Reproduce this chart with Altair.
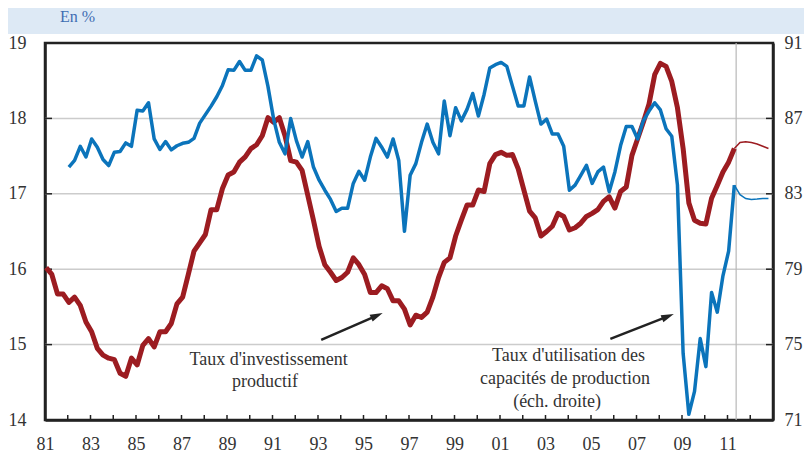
import altair as alt
import pandas as pd

# Taux d'investissement productif (left axis, %), quarterly 1981Q1 .. 2011Q2
invest = [
    16.02, 15.93, 15.67, 15.67,
    15.56, 15.63, 15.52, 15.30,
    15.17, 14.95, 14.86, 14.82,
    14.80, 14.62, 14.58, 14.82,
    14.73, 14.99, 15.08, 14.97,
    15.17, 15.17, 15.28, 15.54,
    15.63, 15.93, 16.24, 16.35,
    16.46, 16.79, 16.79, 17.07,
    17.25, 17.29, 17.42, 17.49,
    17.60, 17.65, 17.77, 18.01,
    17.95, 18.01, 17.77, 17.44,
    17.42, 17.31, 16.98, 16.65,
    16.30, 16.06, 15.96, 15.85,
    15.89, 15.96, 16.15, 16.06,
    15.93, 15.69, 15.69, 15.78,
    15.74, 15.58, 15.58, 15.47,
    15.26, 15.39, 15.36, 15.43,
    15.63, 15.89, 16.09, 16.15,
    16.44, 16.65, 16.85, 16.85,
    17.05, 17.03, 17.40, 17.52,
    17.55, 17.51, 17.52, 17.33,
    17.05, 16.77, 16.68, 16.44,
    16.50, 16.57, 16.74, 16.70,
    16.52, 16.55, 16.61, 16.70,
    16.74, 16.79, 16.90, 16.96,
    16.81, 17.03, 17.09, 17.51,
    17.73, 17.95, 18.19, 18.58,
    18.73, 18.69, 18.49, 18.14,
    17.60, 16.88, 16.65, 16.61,
    16.60, 16.94, 17.11, 17.29,
    17.42, 17.60,
]

# Taux d'utilisation des capacités de production (right axis, %), quarterly 1982Q1 .. 2011Q2
capacity = [
    84.42, 84.77, 85.52, 84.95,
    85.91, 85.47, 84.82, 84.50,
    85.21, 85.24, 85.70, 85.52,
    87.43, 87.39, 87.83, 85.91,
    85.35, 85.77, 85.33, 85.55,
    85.68, 85.73, 85.94, 86.75,
    87.20, 87.65, 88.15, 88.75,
    89.58, 89.55, 90.02, 89.55,
    89.55, 90.32, 90.10, 88.70,
    86.96, 85.73, 85.12, 86.99,
    85.82, 84.95, 85.77, 84.42,
    83.72, 83.19, 82.70, 82.06,
    82.23, 82.23, 83.55, 84.19,
    83.72, 84.95, 85.94, 85.47,
    84.95, 85.91, 84.77, 81.01,
    83.98, 84.60, 85.73, 86.70,
    85.73, 85.12, 87.92, 86.08,
    87.57, 86.87, 87.48, 88.32,
    87.13, 88.27, 89.67, 89.85,
    89.97, 89.76, 88.70, 87.66,
    87.66, 89.20, 87.92, 86.70,
    86.96, 86.17, 86.17, 85.52,
    83.19, 83.46, 83.98, 84.51,
    83.55, 84.16, 84.42, 83.11,
    84.16, 85.56, 86.57, 86.57,
    85.91, 86.87, 87.39, 87.83,
    87.45, 86.45, 86.05, 83.46,
    74.53, 71.30, 72.52, 75.32,
    73.83, 77.77, 76.72, 78.65,
    79.96, 83.46,
]

# Forecasts (thin lines), quarterly 2011Q2 .. 2012Q4
invest_fc = [17.60, 17.68, 17.69, 17.68, 17.66, 17.63, 17.60]
capacity_fc = [83.46, 82.95, 82.75, 82.70, 82.72, 82.75, 82.75]

x_label_years = list(range(1981, 2012, 2))
x_tick_years = list(range(1982, 2013))
left_ticks = [14, 15, 16, 17, 18, 19]
right_ticks = [71, 75, 79, 83, 87, 91]
grid_values = [15, 16, 17, 18]
forecast_line_x = [2011.38]

# annotations (data coordinates: year, left-axis value)
label_text = ["Taux d'investissement", "productif",
              "Taux d'utilisation des", "capacités de production", "(éch. droite)"]
label_x = [1990.83, 1990.67, 2004.01, 2003.86, 2003.51]
label_y = [14.735, 14.433, 14.787, 14.472, 14.171]
arrow_x = [1993.14, 2005.85]
arrow_y = [15.063, 15.076]
arrow_x2 = [1995.59, 2008.38]
arrow_y2 = [15.385, 15.374]
arrow_angle = [66.4, 68.6]

RED = "#9c1c21"
BLUE = "#0b74bb"
DARK = "#222222"
TEXT = "#333333"
FONT = "Liberation Serif"
BAND = "#dde9f5"


def quarters(start_year, n):
    return [start_year + 0.05 + 0.25 * i for i in range(n)]


df_inv = pd.DataFrame({"x": quarters(1981, len(invest)), "v": invest})
df_cap = pd.DataFrame({"x": quarters(1982, len(capacity)), "v": capacity})
df_inv_fc = pd.DataFrame({"x": quarters(2011.25, len(invest_fc)), "v": invest_fc})
df_cap_fc = pd.DataFrame({"x": quarters(2011.25, len(capacity_fc)), "v": capacity_fc})
df_labels = pd.DataFrame({"x": label_x, "v": label_y, "t": label_text})
df_arrows = pd.DataFrame({"x": arrow_x, "v": arrow_y, "x2": arrow_x2, "v2": arrow_y2, "a": arrow_angle})
df_heads = pd.DataFrame({"x": arrow_x2, "v": arrow_y2, "a": arrow_angle})
df_grid = pd.DataFrame({"v": grid_values})
df_xticks = pd.DataFrame({"x": x_tick_years})
df_vline = pd.DataFrame({"x": forecast_line_x})
df_one = pd.DataFrame({"a": [0]})

W, H = 728, 377
PAD = {"left": 37, "top": 35, "right": 31, "bottom": 34}

x_axis = alt.Axis(values=x_label_years, labelExpr="slice('' + datum.value, 2)",
                  ticks=False, grid=False, domainColor=DARK, domainWidth=2.5,
                  labelPadding=15, labelFlush=False, labelOverlap=False, title=None)
X = alt.X("x:Q", scale=alt.Scale(domain=[1981, 2013], nice=False, zero=False), axis=x_axis)

left_axis = alt.Axis(values=left_ticks, ticks=False, grid=False, domainColor=DARK,
                     domainWidth=2.5, labelPadding=19, title=None)
YL = alt.Y("v:Q", scale=alt.Scale(domain=[14, 19], nice=False, zero=False), axis=left_axis)

right_axis = alt.Axis(values=right_ticks, orient="right", ticks=False, grid=False,
                      domainColor=DARK, domainWidth=2.5, labelPadding=11, title=None)
YR = alt.Y("v:Q", scale=alt.Scale(domain=[71, 91], nice=False, zero=False), axis=right_axis)

band = alt.Chart(df_one).mark_rect(color=BAND).encode(
    x=alt.value(-PAD["left"]), x2=alt.value(W + PAD["right"]), y=alt.value(-PAD["top"]), y2=alt.value(-9))
en_pct = alt.Chart(df_one).mark_text(text="En %", font=FONT, fontSize=16, color="#3d6db2",
                                     align="left", baseline="alphabetic").encode(
    x=alt.value(15), y=alt.value(-21))

grid = alt.Chart(df_grid).mark_rule(color="#cccccc", strokeWidth=1.5).encode(y=YL)
left_t = alt.Chart(df_grid).mark_rule(color=DARK, strokeWidth=1.5).encode(
    y=YL, x=alt.value(0), x2=alt.value(7))
right_t = alt.Chart(df_grid).mark_rule(color=DARK, strokeWidth=1.5).encode(
    y=YL, x=alt.value(W - 7), x2=alt.value(W))
xticks = alt.Chart(df_xticks).mark_rule(color=DARK, strokeWidth=1.5).encode(
    x=X, y=alt.value(H - 5), y2=alt.value(H))
vline = alt.Chart(df_vline).mark_rule(color="#b8b8b8", strokeWidth=1.2).encode(x=X)

red_line = alt.Chart(df_inv).mark_line(color=RED, strokeWidth=5, strokeJoin="round").encode(x=X, y=YL)
red_fc = alt.Chart(df_inv_fc).mark_line(color=RED, strokeWidth=1.5).encode(x=X, y=YL)

labels = alt.Chart(df_labels).mark_text(font=FONT, fontSize=18, color=TEXT, align="center",
                                        baseline="alphabetic").encode(x=X, y=YL, text="t:N")
arrows = alt.Chart(df_arrows).mark_rule(color=DARK, strokeWidth=2.5).encode(
    x=X, y=YL, x2="x2:Q", y2="v2:Q")
heads = alt.Chart(df_heads).mark_point(shape="M0,-1L0.6,1L-0.6,1Z", filled=True, size=160,
                                       color=DARK, opacity=1).encode(
    x=X, y=YL, angle=alt.Angle("a:Q", scale=None))

left_group = alt.layer(band, en_pct, grid, vline, xticks, left_t, right_t,
                       red_line, red_fc, labels, arrows, heads)

blue_line = alt.Chart(df_cap).mark_line(color=BLUE, strokeWidth=3.5, strokeJoin="round").encode(x=X, y=YR)
blue_fc = alt.Chart(df_cap_fc).mark_line(color=BLUE, strokeWidth=1.5).encode(x=X, y=YR)
right_group = alt.layer(blue_line, blue_fc)

chart = alt.layer(left_group, right_group).resolve_scale(y="independent").properties(
    width=W, height=H,
    padding=PAD,
    autosize=alt.AutoSizeParams(type="none"),
    background="white",
).configure_view(stroke=DARK, strokeWidth=2.5).configure_axis(
    labelFont=FONT, labelFontSize=18, labelColor=TEXT)

chart.save("out.html", embed_options={"renderer": "svg", "actions": False})
